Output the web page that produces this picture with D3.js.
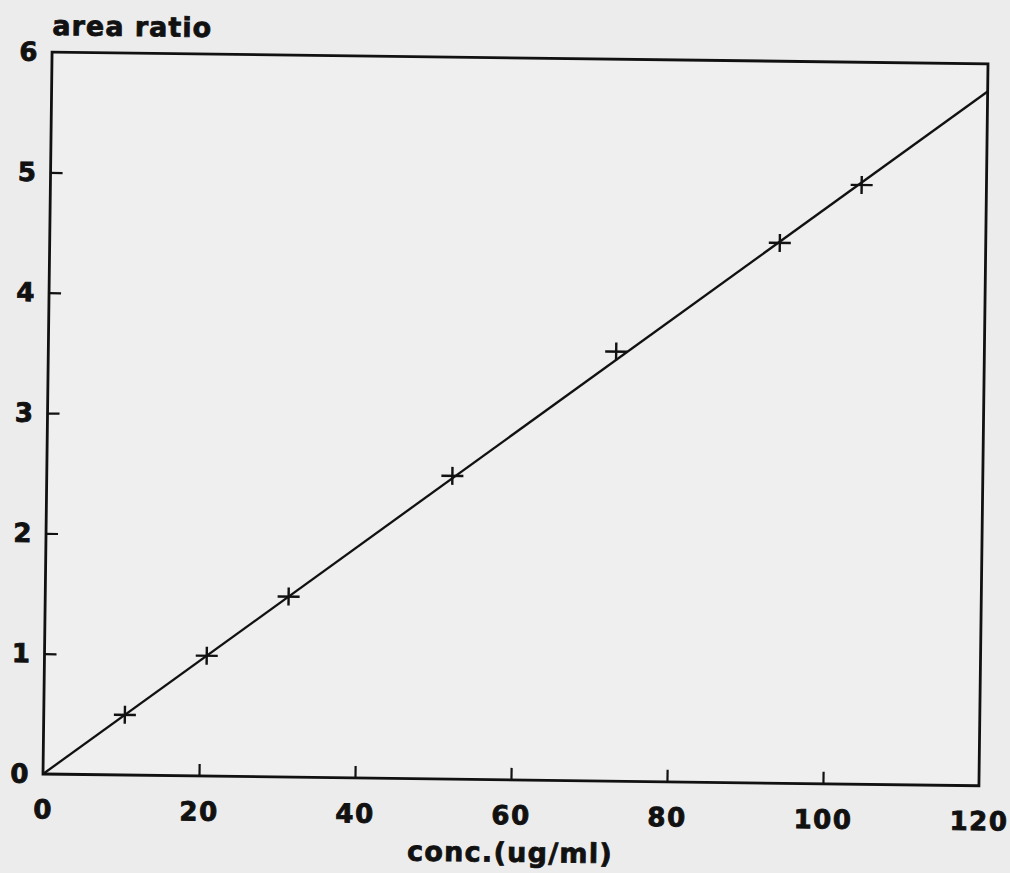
<!DOCTYPE html>
<html>
<head>
<meta charset="utf-8">
<script src="https://cdn.jsdelivr.net/npm/d3@7"></script>
<style>
  html, body { margin: 0; padding: 0; background: #ececec; }
  svg { display: block; }
  text { font-family: "DejaVu Sans", "Liberation Sans", sans-serif; font-weight: bold; fill: #111; }
</style>
</head>
<body>
<svg id="chart" width="1010" height="873"></svg>
<script>
// ---- data ----
const concValues = [10.4, 20.8, 31.2, 52, 72.8, 93.6, 104];
const ratioValues = [0.50, 1.00, 1.50, 2.52, 3.57, 4.49, 4.98];
const fitLineX = [0, 120];
const fitLineY = [0, 5.77];
const xTicks = [0, 20, 40, 60, 80, 100, 120];
const yTicks = [0, 1, 2, 3, 4, 5, 6];
const xTitle = "conc.(ug/ml)";
const yTitle = "area ratio";

// ---- layout ----
const W = 936, H = 722;
const svg = d3.select("#chart");
svg.append("rect").attr("width", 1010).attr("height", 873).attr("fill", "#ececec");

const g = svg.append("g").attr("transform", "translate(43,774) rotate(0.72)");

const x = d3.scaleLinear().domain([0, 120]).range([0, W]);
const y = d3.scaleLinear().domain([0, 6]).range([0, -H]);

// frame
g.append("rect")
  .attr("x", 0).attr("y", -H).attr("width", W).attr("height", H)
  .attr("fill", "#efefef").attr("stroke", "#111").attr("stroke-width", 2.8);

// axes
const fmt = d3.format("d");
const xAxis = d3.axisBottom(x).tickValues(xTicks).tickFormat(fmt).tickSizeInner(-12).tickSizeOuter(0).tickPadding(26);
const yAxis = d3.axisLeft(y).tickValues(yTicks).tickFormat(fmt).tickSizeInner(-12).tickSizeOuter(0).tickPadding(13);

const gx = g.append("g").call(xAxis);
const gy = g.append("g").call(yAxis);
[gx, gy].forEach(a => {
  a.select(".domain").remove();
  a.selectAll("line").attr("stroke", "#111").attr("stroke-width", 2.2);
  a.selectAll("text").attr("font-size", 26).attr("font-family", "DejaVu Sans, sans-serif")
    .attr("font-weight", "bold").attr("fill", "#111")
    .attr("stroke", "#111").attr("stroke-width", 0.9)
    .style("letter-spacing", "1.5px");
});
gx.selectAll("line").filter(d => d === 0 || d === 120).remove();
gy.selectAll("line").filter(d => d === 0 || d === 6).remove();

// fit line
const line = d3.line().x(d => x(d[0])).y(d => y(d[1]));
g.append("path")
  .datum(fitLineX.map((v, i) => [v, fitLineY[i]]))
  .attr("d", line).attr("fill", "none").attr("stroke", "#111").attr("stroke-width", 2.3);

// plus markers
const pts = concValues.map((v, i) => [v, ratioValues[i]]);
const mk = g.append("g").attr("stroke", "#111").attr("stroke-width", 2.4);
mk.selectAll("line.h").data(pts).join("line").attr("class", "h")
  .attr("x1", d => x(d[0]) - 11).attr("x2", d => x(d[0]) + 11)
  .attr("y1", d => y(d[1])).attr("y2", d => y(d[1]));
mk.selectAll("line.v").data(pts).join("line").attr("class", "v")
  .attr("x1", d => x(d[0])).attr("x2", d => x(d[0]))
  .attr("y1", d => y(d[1]) - 9).attr("y2", d => y(d[1]) + 9);

// titles
g.append("text").attr("x", 0).attr("y", -H - 17)
  .attr("font-size", 27).attr("stroke", "#111").attr("stroke-width", 0.8)
  .style("letter-spacing", "1px").text(yTitle);
g.append("text").attr("x", x(60)).attr("y", 82).attr("text-anchor", "middle")
  .attr("font-size", 27).attr("stroke", "#111").attr("stroke-width", 0.8)
  .style("letter-spacing", "1.3px").text(xTitle);
</script>
</body>
</html>
